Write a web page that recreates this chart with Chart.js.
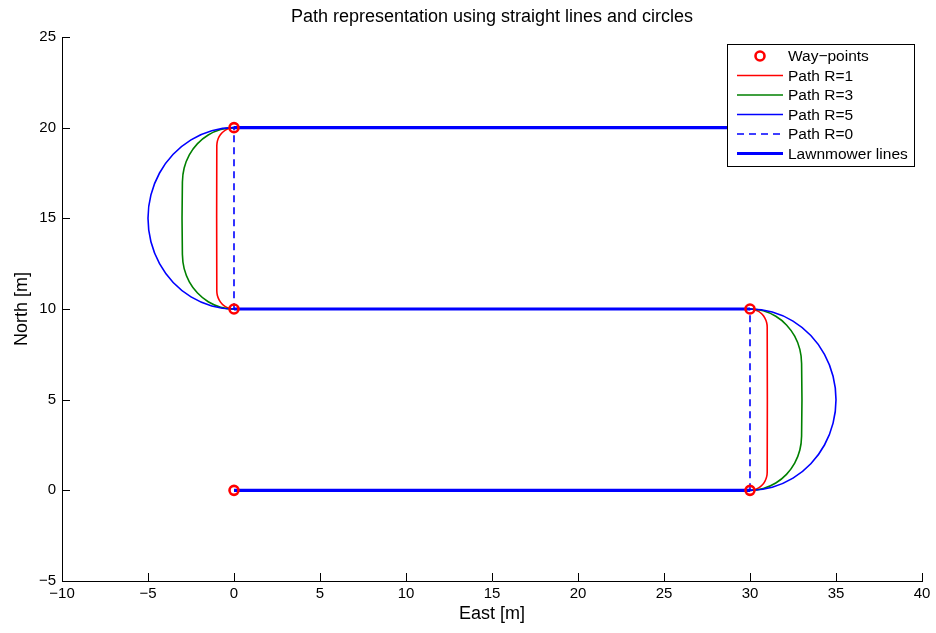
<!DOCTYPE html>
<html>
<head>
<meta charset="utf-8">
<script src="https://cdn.jsdelivr.net/npm/chart.js@4.4.1/dist/chart.umd.min.js"></script>
<style>
  html, body { margin: 0; padding: 0; background: #fff; }
  #wrap { width: 936px; height: 633px; }
</style>
</head>
<body>
<div id="wrap"><canvas id="chart" width="936" height="633"></canvas></div>
<script>
// Way-points
const wayX = [0, 30, 30, 0, 0];
const wayY = [0, 0, 10, 10, 20];

// Path R=1 (vertices along the path, arcs every 15 degrees)
const r1X = [0, 30, 30.259, 30.5, 30.707, 30.866, 30.966, 31, 31, 30.966, 30.866, 30.707, 30.5, 30.259, 30,
             0, -0.259, -0.5, -0.707, -0.866, -0.966, -1, -1, -0.966, -0.866, -0.707, -0.5, -0.259, 0, 30];
const r1Y = [0, 0, 0.034, 0.134, 0.293, 0.5, 0.741, 1, 9, 9.259, 9.5, 9.707, 9.866, 9.966, 10,
             10, 10.034, 10.134, 10.293, 10.5, 10.741, 11, 19, 19.259, 19.5, 19.707, 19.866, 19.966, 20, 20];

// Path R=3
const r3X = [0, 30, 30.776, 31.5, 32.121, 32.598, 32.898, 33, 33, 32.898, 32.598, 32.121, 31.5, 30.776, 30,
             0, -0.776, -1.5, -2.121, -2.598, -2.898, -3, -3, -2.898, -2.598, -2.121, -1.5, -0.776, 0, 30];
const r3Y = [0, 0, 0.102, 0.402, 0.879, 1.5, 2.224, 3, 7, 7.776, 8.5, 9.121, 9.598, 9.898, 10,
             10, 10.102, 10.402, 10.879, 11.5, 12.224, 13, 17, 17.776, 18.5, 19.121, 19.598, 19.898, 20, 20];

// Path R=5
const r5X = [0, 30, 31.294, 32.5, 33.536, 34.33, 34.83, 35, 34.83, 34.33, 33.536, 32.5, 31.294, 30,
             0, -1.294, -2.5, -3.536, -4.33, -4.83, -5, -4.83, -4.33, -3.536, -2.5, -1.294, 0, 30];
const r5Y = [0, 0, 0.17, 0.67, 1.464, 2.5, 3.706, 5, 6.294, 7.5, 8.536, 9.33, 9.83, 10,
             10, 10.17, 10.67, 11.464, 12.5, 13.706, 15, 16.294, 17.5, 18.536, 19.33, 19.83, 20, 20];

// Path R=0
const r0X = [0, 30, 30, 0, 0, 30];
const r0Y = [0, 0, 10, 10, 20, 20];

// Lawnmower lines (null = break)
const mowX = [0, 30, null, 30, 0, null, 0, 30];
const mowY = [0, 0, null, 10, 10, null, 20, 20];

const xTicks = [-10, -5, 0, 5, 10, 15, 20, 25, 30, 35, 40];
const yTicks = [-5, 0, 5, 10, 15, 20, 25];

const FONT = "'Liberation Sans', Arial, sans-serif";

function pts(xs, ys) {
    return xs.map((x, i) => ({ x: x, y: ys[i] }));
}
function minus(v) {
    return String(v).replace('-', '\u2212');
}

const datasets = [
    {
        label: 'Way\u2212points', data: pts(wayX, wayY), showLine: false,
        pointStyle: 'circle', pointRadius: 4.5, pointBorderWidth: 2.6,
        pointBorderColor: '#ff0000', pointBackgroundColor: 'rgba(0,0,0,0)', order: 0
    },
    {
        label: 'Path R=1', data: pts(r1X, r1Y), showLine: true, borderColor: '#ff0000',
        borderWidth: 1.6, tension: 0.34, pointRadius: 0, order: 5
    },
    {
        label: 'Path R=3', data: pts(r3X, r3Y), showLine: true, borderColor: '#008000',
        borderWidth: 1.6, tension: 0.34, pointRadius: 0, order: 4
    },
    {
        label: 'Path R=5', data: pts(r5X, r5Y), showLine: true, borderColor: '#0000ff',
        borderWidth: 1.6, tension: 0.34, pointRadius: 0, order: 3
    },
    {
        label: 'Path R=0', data: pts(r0X, r0Y), showLine: true, borderColor: '#0000ff',
        borderWidth: 1.6, borderDash: [7, 5], tension: 0, pointRadius: 0, order: 2
    },
    {
        label: 'Lawnmower lines', data: pts(mowX, mowY), showLine: true, borderColor: '#0000ff',
        borderWidth: 3.2, tension: 0, pointRadius: 0, spanGaps: false, order: 1
    }
];

// Title, axis titles, inward ticks and the legend box
const decor = {
    id: 'decor',
    afterDraw(chart) {
        const ctx = chart.ctx;
        const a = chart.chartArea;
        const xs = chart.scales.x, ys = chart.scales.y;
        ctx.save();

        // inward ticks
        ctx.strokeStyle = '#000';
        ctx.lineWidth = 1;
        ctx.beginPath();
        xTicks.forEach(v => {
            const px = Math.round(xs.getPixelForValue(v)) + 0.5;
            ctx.moveTo(px, a.bottom);
            ctx.lineTo(px, a.bottom - 8);
        });
        yTicks.forEach(v => {
            const py = Math.round(ys.getPixelForValue(v)) + 0.5;
            ctx.moveTo(a.left, py);
            ctx.lineTo(a.left + 8, py);
        });
        ctx.stroke();

        // titles
        ctx.fillStyle = '#000';
        ctx.textAlign = 'center';
        ctx.textBaseline = 'middle';
        const cx = (a.left + a.right) / 2;
        ctx.font = '18px ' + FONT;
        ctx.fillText('Path representation using straight lines and circles', cx, 17);
        ctx.fillText('East [m]', cx, 614);
        ctx.save();
        ctx.translate(22, (a.top + a.bottom) / 2);
        ctx.rotate(-Math.PI / 2);
        ctx.fillText('North [m]', 0, 0);
        ctx.restore();

        // legend
        const bx = 727, by = 44, bw = 187, bh = 122;
        ctx.fillStyle = '#fff';
        ctx.fillRect(bx, by, bw, bh);
        ctx.strokeStyle = '#000';
        ctx.lineWidth = 1;
        ctx.strokeRect(bx + 0.5, by + 0.5, bw, bh);
        ctx.font = '15.5px ' + FONT;
        ctx.textAlign = 'left';
        chart.data.datasets.forEach((ds, i) => {
            const y = 56 + i * 19.5;
            if (ds.showLine === false) {
                ctx.beginPath();
                ctx.arc(760, y, ds.pointRadius, 0, Math.PI * 2);
                ctx.strokeStyle = ds.pointBorderColor;
                ctx.lineWidth = ds.pointBorderWidth;
                ctx.stroke();
            } else {
                ctx.beginPath();
                ctx.setLineDash(ds.borderDash || []);
                ctx.strokeStyle = ds.borderColor;
                ctx.lineWidth = ds.borderWidth;
                ctx.moveTo(737, y);
                ctx.lineTo(783, y);
                ctx.stroke();
                ctx.setLineDash([]);
            }
            ctx.fillStyle = '#000';
            ctx.fillText(ds.label, 788, y + 1);
        });
        ctx.restore();
    }
};

new Chart(document.getElementById('chart'), {
    type: 'scatter',
    data: { datasets: datasets },
    options: {
        responsive: false,
        animation: false,
        layout: { padding: { top: 37, right: 14, left: 0, bottom: 0 } },
        plugins: { legend: { display: false }, tooltip: { enabled: false } },
        scales: {
            x: {
                type: 'linear', min: -10, max: 40,
                afterFit(s) { s.height = 52; },
                afterBuildTicks(s) { s.ticks = xTicks.map(v => ({ value: v })); },
                grid: { display: true, drawOnChartArea: false, drawTicks: false },
                border: { display: true, color: '#000', width: 1 },
                ticks: {
                    padding: 4, color: '#000', font: { family: FONT, size: 15 },
                    maxRotation: 0, autoSkip: false, callback: v => minus(v)
                }
            },
            y: {
                type: 'linear', min: -5, max: 25,
                afterFit(s) { s.width = 62; },
                afterBuildTicks(s) { s.ticks = yTicks.map(v => ({ value: v })); },
                grid: { display: true, drawOnChartArea: false, drawTicks: false },
                border: { display: true, color: '#000', width: 1 },
                ticks: {
                    padding: 6, color: '#000', font: { family: FONT, size: 15 },
                    autoSkip: false, callback: v => minus(v)
                }
            }
        }
    },
    plugins: [decor]
});
</script>
</body>
</html>
